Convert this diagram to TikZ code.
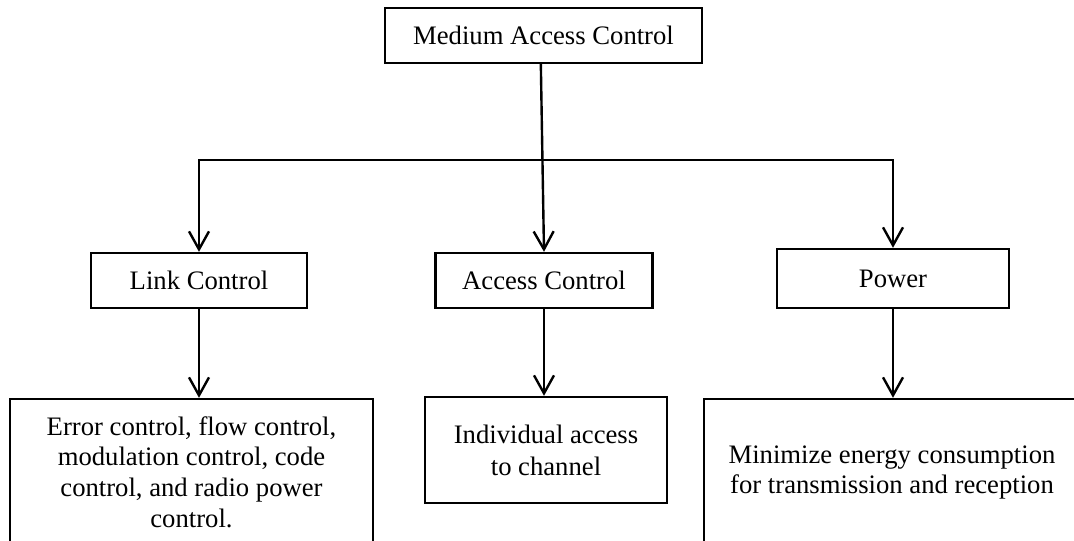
\documentclass[tikz,border=0pt]{standalone}
\usepackage{fontspec}
\setmainfont{Liberation Serif}
\usetikzlibrary{arrows.meta}

\begin{document}
\begin{tikzpicture}[x=0.75pt,y=-0.75pt,
  box/.style={draw, line width=1.8pt, inner sep=0pt, align=center,
    font=\fontsize{20}{23}\selectfont},
  tip/.style={Straight Barb[length=13.5pt,width=15pt,line width=1.8pt]},
  arr/.style={line width=1.8pt, -{Straight Barb[length=13.5pt,width=15pt,line width=1.8pt]}},
  arrtwo/.style={line width=1.8pt, {Straight Barb[length=13.5pt,width=15pt,line width=1.8pt]}-{Straight Barb[length=13.5pt,width=15pt,line width=1.8pt]}}]
  \useasboundingbox (0,0) rectangle (1074,540);

  % top level
  \node[box, minimum width=237.75pt, minimum height=41.25pt] (mac) at (543.5,35.5) {Medium Access Control};

  % second level
  \node[box, minimum width=162pt, minimum height=41.25pt] (link) at (199,280.5) {Link Control};
  \node[box, minimum width=162.75pt, minimum height=41.25pt] (access) at (544,280.5) {Access Control};
  \node[box, minimum width=174pt, minimum height=44.25pt] (power) at (893,278.5) {Power};

  % third level (the lower boxes run past the page edge)
  \node[box, minimum width=272.25pt, minimum height=109.5pt] (errbox) at (191.5,472)
    {Error control, flow control,\\ modulation control, code\\ control, and radio power\\ control.};
  \node[box, minimum width=181.5pt, minimum height=79.5pt,
    font=\fontsize{20}{24}\selectfont] (indiv) at (546,450)
    {Individual access\\ to channel};
  \node[box, minimum width=282pt, minimum height=110.25pt,
    font=\fontsize{20}{22}\selectfont] (minbox) at (892,472.5)
    {Minimize energy consumption\\ for transmission and reception};

  % distribution bus
  \coordinate (busy) at (0,160);
  \coordinate (busR) at (power.north |- busy);

  \draw[arr] ([xshift=-2]mac.south) -- (access.north);
  \draw[arrtwo] (link.north) |- (busR) -- (power.north);

  \draw[arr] (link.south) -- (link.south |- errbox.north);
  \draw[arr] (access.south) -- (access.south |- indiv.north);
  \draw[arr] (power.south) -- (power.south |- minbox.north);
\end{tikzpicture}
\end{document}
